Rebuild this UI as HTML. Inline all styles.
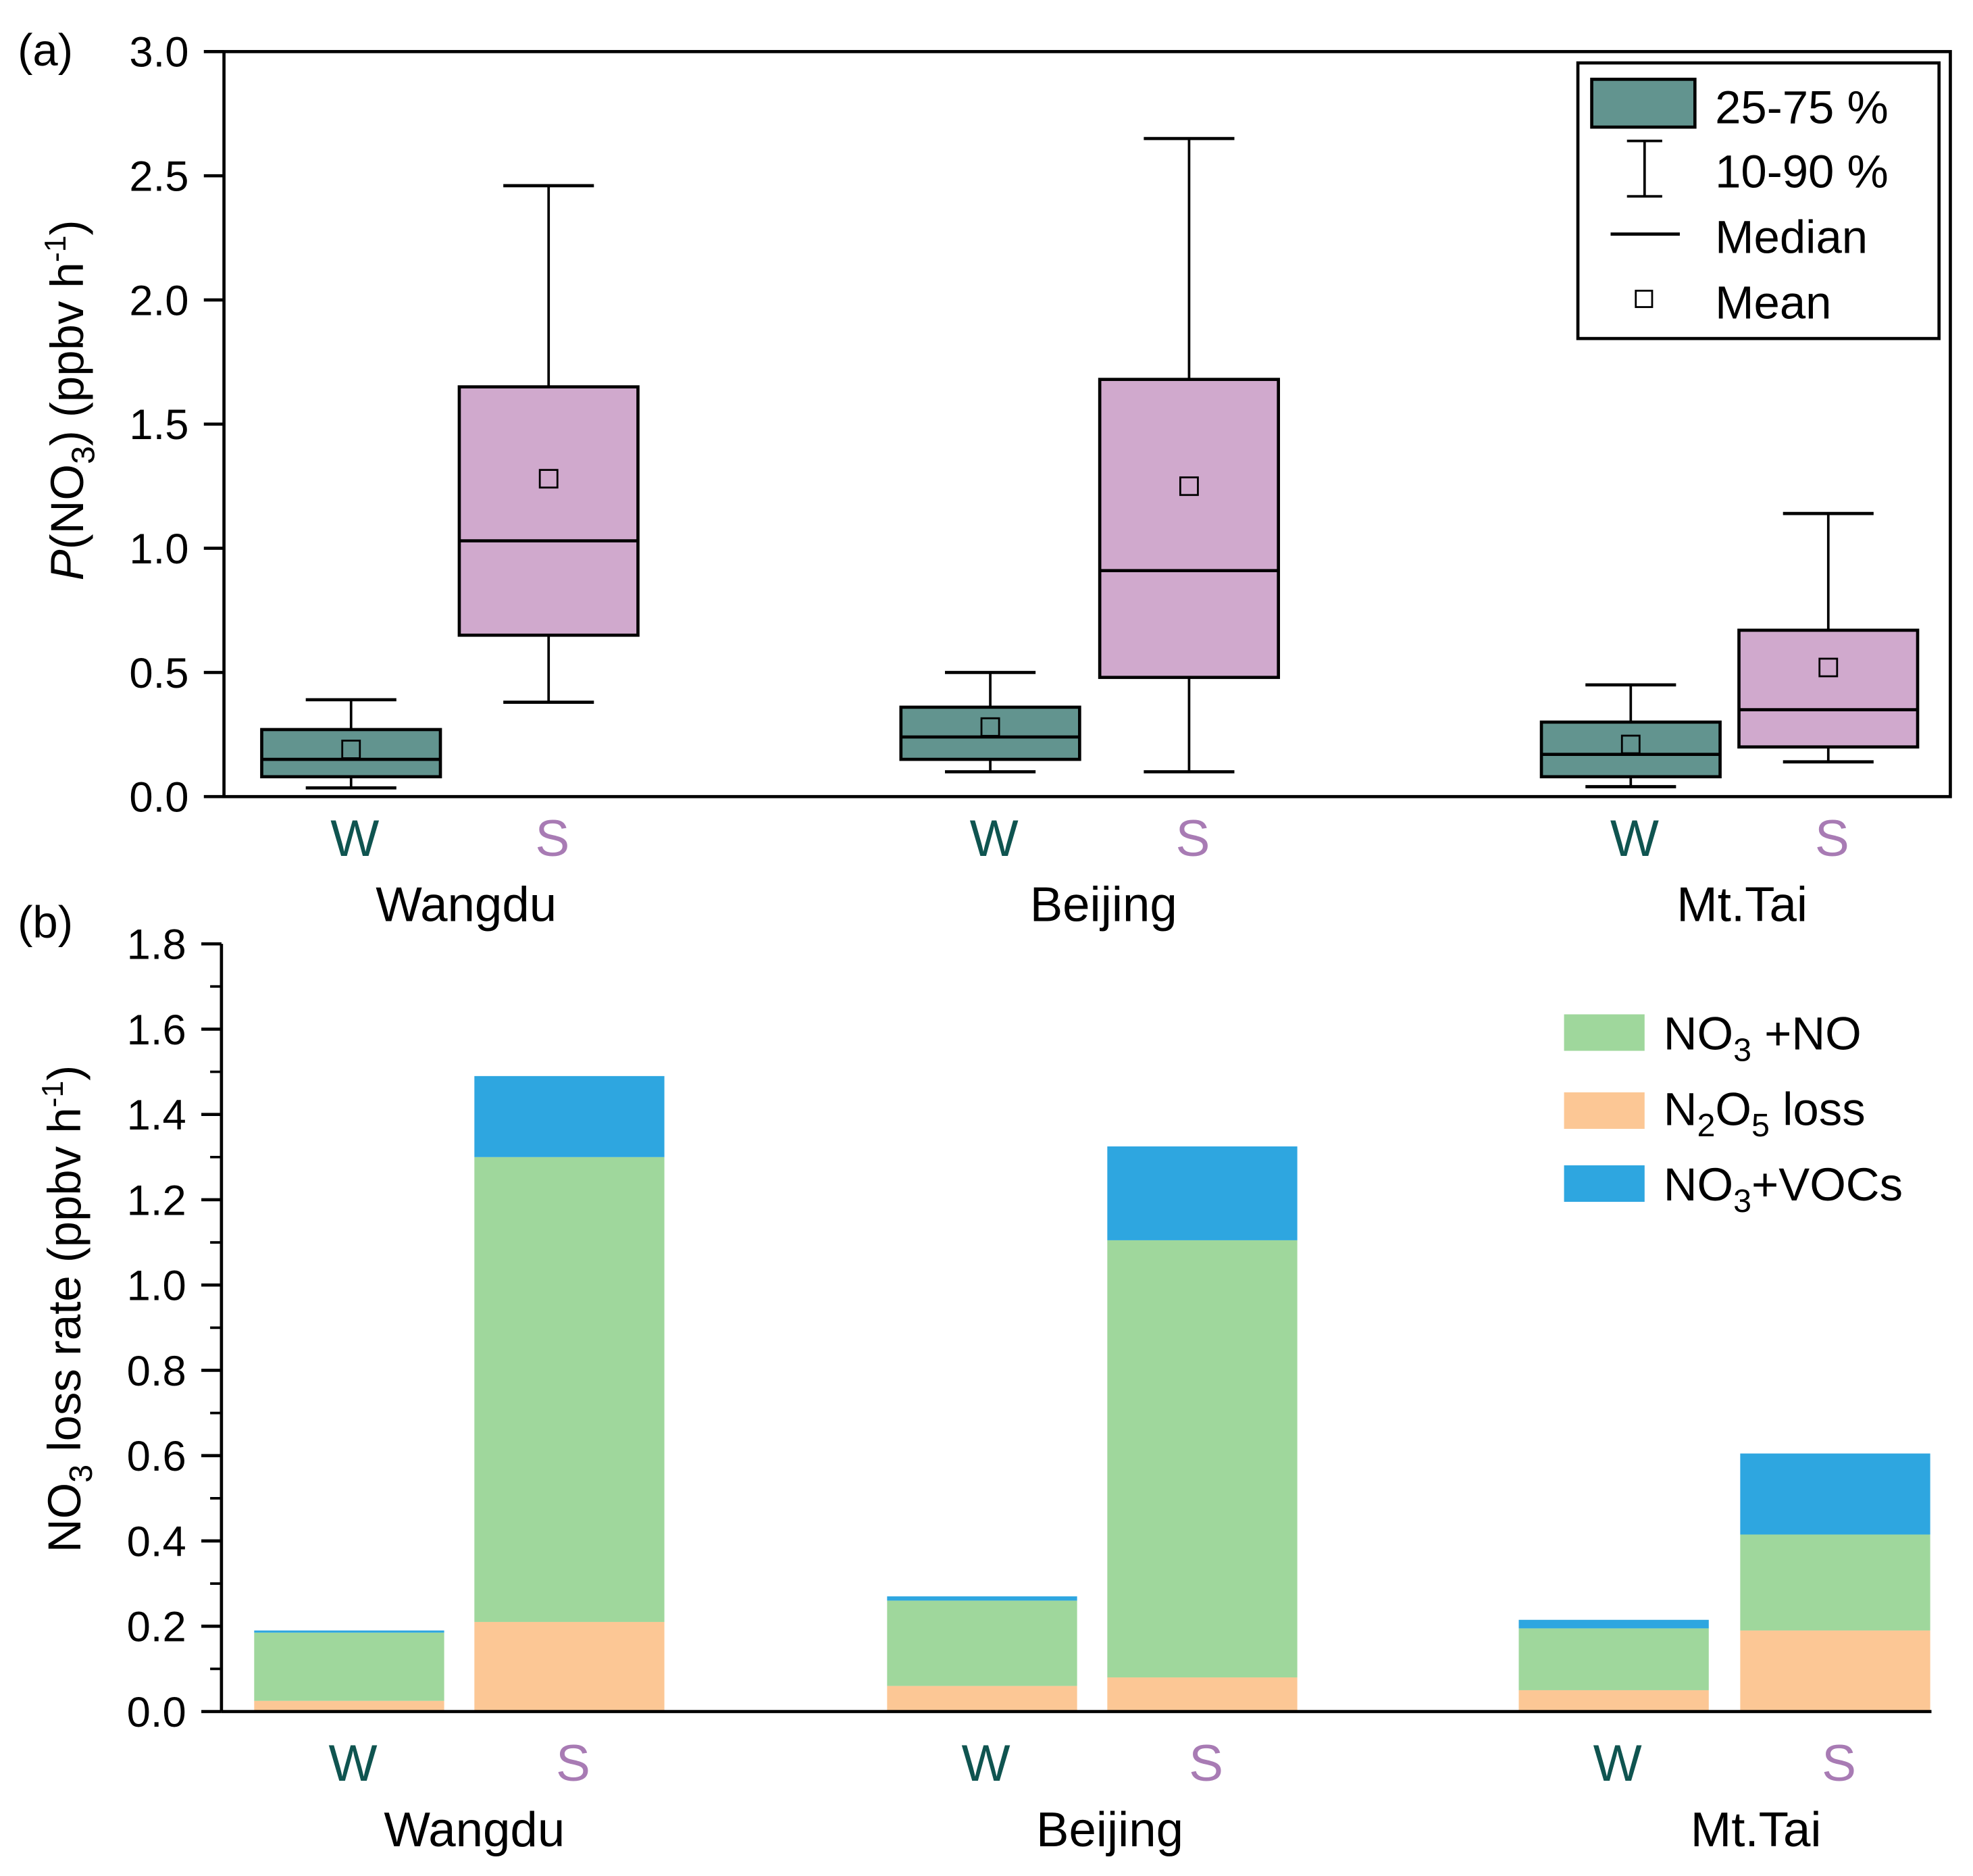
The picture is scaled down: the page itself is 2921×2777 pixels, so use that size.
<!DOCTYPE html>
<html><head><meta charset="utf-8"><style>
html,body{margin:0;padding:0;background:#fff;}
svg{display:block;font-family:"Liberation Sans",Arial,sans-serif;}
</style></head><body>
<svg id="chart" width="2921" height="2777" viewBox="0 0 1568 1490.7" preserveAspectRatio="none" xmlns="http://www.w3.org/2000/svg">
<g id="pa"></g>
<g id="pb"></g>
</svg>
<script>
const sites = ["Wangdu","Beijing","Mt.Tai"];
const seasons = ["W","S"];
// panel a box stats order: Wangdu W, Wangdu S, Beijing W, Beijing S, MtTai W, MtTai S
const p10 = [0.035,0.38,0.10,0.10,0.04,0.14];
const q1 = [0.08,0.65,0.15,0.48,0.08,0.20];
const med = [0.15,1.03,0.24,0.91,0.17,0.35];
const q3 = [0.27,1.65,0.36,1.68,0.30,0.67];
const p90 = [0.39,2.46,0.50,2.65,0.45,1.14];
const mean = [0.19,1.28,0.28,1.25,0.21,0.52];
const aTicks = ["0.0","0.5","1.0","1.5","2.0","2.5","3.0"];
// panel b stacked components
const n2o5Loss = [0.025,0.21,0.06,0.08,0.05,0.19];
const no3NO = [0.16,1.09,0.20,1.025,0.145,0.225];
const no3VOC = [0.005,0.19,0.01,0.22,0.02,0.19];
const bTicks = ["0.0","0.2","0.4","0.6","0.8","1.0","1.2","1.4","1.6","1.8"];

const NS="http://www.w3.org/2000/svg";
function mk(p,t,a,txt){const e=document.createElementNS(NS,t);for(const k in a)e.setAttribute(k,a[k]);if(txt!==undefined)e.textContent=txt;p.appendChild(e);return e;}
const pa=document.getElementById('pa'), pb=document.getElementById('pb');

// ---- panel a
const aL=178,aR=1550,aT=41,aB=633;
const ya=v=>aB-(v/3)*(aB-aT);
const aCenters=[279,436,787,945,1296,1453];
const boxW=142, capW=72;
const fillA=["#62948f","#d0a9cd"];
let e=mk(pa,'rect',{x:aL,y:aT,width:aR-aL,height:aB-aT,fill:'none',stroke:'#000','stroke-width':2.5});

aTicks.forEach((t,i)=>{const v=parseFloat(t);const y=ya(v);
 let l=mk(pa,'line',{x1:aL-16,x2:aL,y1:y,y2:y,stroke:'#000','stroke-width':2.5});
 
 let tx=mk(pa,'text',{x:aL-28,y:y+12,'font-size':34,'text-anchor':'end'},t);
 
});
aCenters.forEach((c,i)=>{
 const g=mk(pa,'g',{});
 
 
 mk(g,'line',{x1:c,x2:c,y1:ya(p10[i]),y2:ya(q1[i]),stroke:'#000','stroke-width':2});
 mk(g,'line',{x1:c,x2:c,y1:ya(q3[i]),y2:ya(p90[i]),stroke:'#000','stroke-width':2});
 mk(g,'line',{x1:c-capW/2,x2:c+capW/2,y1:ya(p10[i]),y2:ya(p10[i]),stroke:'#000','stroke-width':2.5});
 mk(g,'line',{x1:c-capW/2,x2:c+capW/2,y1:ya(p90[i]),y2:ya(p90[i]),stroke:'#000','stroke-width':2.5});
 mk(g,'rect',{x:c-boxW/2,y:ya(q3[i]),width:boxW,height:ya(q1[i])-ya(q3[i]),fill:fillA[i%2],stroke:'#000','stroke-width':2.5});
 mk(g,'line',{x1:c-boxW/2,x2:c+boxW/2,y1:ya(med[i]),y2:ya(med[i]),stroke:'#000','stroke-width':2.5});
 mk(g,'rect',{x:c-7,y:ya(mean[i])-7,width:14,height:14,fill:'none',stroke:'#000','stroke-width':1.5});
});
function catLabels(p,centers,yS,ySite,pre,offs){
 centers.forEach((c,i)=>{let t=mk(p,'text',{x:c+3,y:yS,'font-size':41,'text-anchor':'middle',fill:i%2?'#a87bb4':'#0f5450'},seasons[i%2]);
  });
 for(let s=0;s<3;s++){const c=(centers[2*s]+centers[2*s+1])/2+offs[s];
  let t=mk(p,'text',{x:c,y:ySite,'font-size':39,'text-anchor':'middle'},sites[s]);
  }
}
catLabels(pa,aCenters,680,732,'a-',[13,11,10]);
e=mk(pa,'text',{x:14,y:52,'font-size':36},'(a)');
e=mk(pa,'text',{transform:'translate(66,318) rotate(-90)','font-size':37,'text-anchor':'middle'});

e.innerHTML='<tspan font-style="italic">P</tspan>(NO<tspan font-size="26" dy="9">3</tspan><tspan dy="-9">) (ppbv h</tspan><tspan font-size="24" dy="-14">-1</tspan><tspan dy="14">)</tspan>';
// legend a
const lg=mk(pa,'g',{});
mk(lg,'rect',{x:1254,y:50,width:287,height:219,fill:'#fff',stroke:'#000','stroke-width':2.5});
mk(lg,'rect',{x:1265,y:63,width:82,height:38,fill:'#62948f',stroke:'#000','stroke-width':2.5});
mk(lg,'line',{x1:1307,x2:1307,y1:112,y2:156,stroke:'#000','stroke-width':2});
mk(lg,'line',{x1:1293,x2:1321,y1:112,y2:112,stroke:'#000','stroke-width':2});
mk(lg,'line',{x1:1293,x2:1321,y1:156,y2:156,stroke:'#000','stroke-width':2});
mk(lg,'line',{x1:1280,x2:1335,y1:186,y2:186,stroke:'#000','stroke-width':2.5});
mk(lg,'rect',{x:1300,y:231,width:13,height:13,fill:'none',stroke:'#000','stroke-width':1.5});
[["25-75 %",98],["10-90 %",149],["Median",201],["Mean",253]].forEach(([t,y])=>{
 let x=mk(lg,'text',{x:1363,y:y,'font-size':37},t);});

// ---- panel b
const bL=176,bR=1535,bT=750,bB=1360;
const yb=v=>bB-(v/1.8)*(bB-bT);
const bLeft=[202,377,705,880,1207,1383], bW=151;
const cols=["#fcc795","#9fd79c","#2ea6e0"];
aCenters.forEach((_,i)=>{
 const g=mk(pb,'g',{});
 
 
 let base=0;[n2o5Loss[i],no3NO[i],no3VOC[i]].forEach((v,k)=>{
  mk(g,'rect',{x:bLeft[i],y:yb(base+v),width:bW,height:yb(base)-yb(base+v),fill:cols[k]});base+=v;});
});
e=mk(pb,'line',{x1:bL,x2:bL,y1:bT,y2:bB,stroke:'#000','stroke-width':2.5});
e=mk(pb,'line',{x1:bL,x2:bR,y1:bB,y2:bB,stroke:'#000','stroke-width':2.5});
bTicks.forEach((t,i)=>{const v=parseFloat(t);const y=yb(v);
 let l=mk(pb,'line',{x1:bL-16,x2:bL,y1:y,y2:y,stroke:'#000','stroke-width':2.5});
 
 if(i<bTicks.length-1){const ym=yb(v+0.1);let m=mk(pb,'line',{x1:bL-9,x2:bL,y1:ym,y2:ym,stroke:'#000','stroke-width':2});
  }
 let tx=mk(pb,'text',{x:bL-28,y:y+12,'font-size':34,'text-anchor':'end'},t);
 
});
catLabels(pb,bLeft.map(x=>x+bW/2),1415,1467,'b-',[12,14,25]);
e=mk(pb,'text',{x:14,y:745,'font-size':36},'(b)');
e=mk(pb,'text',{transform:'translate(64,1040) rotate(-90)','font-size':37,'text-anchor':'middle'});

e.innerHTML='NO<tspan font-size="26" dy="9">3</tspan><tspan dy="-9"> loss rate (ppbv h</tspan><tspan font-size="24" dy="-14">-1</tspan><tspan dy="14">)</tspan>';
const lb=mk(pb,'g',{});
mk(lb,'rect',{x:1243,y:806,width:64,height:29,fill:cols[1]});
mk(lb,'rect',{x:1243,y:868,width:64,height:29,fill:cols[0]});
mk(lb,'rect',{x:1243,y:926,width:64,height:29,fill:cols[2]});
let t1=mk(lb,'text',{x:1322,y:834,'font-size':37});t1.innerHTML='NO<tspan font-size="26" dy="9">3</tspan><tspan dy="-9"> +NO</tspan>';

let t2=mk(lb,'text',{x:1322,y:894,'font-size':37});t2.innerHTML='N<tspan font-size="26" dy="9">2</tspan><tspan dy="-9">O</tspan><tspan font-size="26" dy="9">5</tspan><tspan dy="-9"> loss</tspan>';

let t3=mk(lb,'text',{x:1322,y:954,'font-size':37});t3.innerHTML='NO<tspan font-size="26" dy="9">3</tspan><tspan dy="-9">+VOCs</tspan>';

</script>
</body></html>
